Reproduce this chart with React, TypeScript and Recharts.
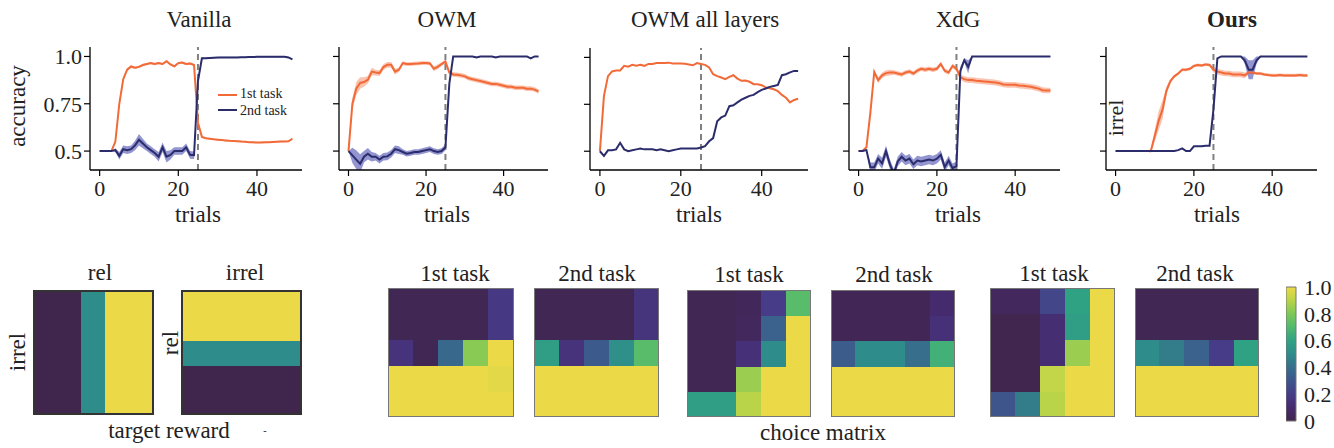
import React from "react";
import {
  ComposedChart,
  Line,
  Area,
  XAxis,
  YAxis,
  ReferenceLine,
  BarChart,
  Bar,
  Cell,
} from "recharts";

const FONT = '"Liberation Serif", "DejaVu Serif", serif';
const ORANGE = "#f26a38";
const NAVY = "#2b2c6b";
const TEXT = "#222";

// x axis: trial index 0..49
const TRIALS = Array.from({ length: 50 }, (_, i) => i);
const X_TICKS = [0, 20, 40];
const Y_TICKS = [0.5, 0.75, 1.0];
const SWITCH_TRIAL = 25;

// ---- Vanilla
const vanOr = [
  0.5, 0.5, 0.5, 0.5, 0.55, 0.75, 0.88, 0.93, 0.947, 0.94,
  0.945, 0.955, 0.96, 0.965, 0.96, 0.965, 0.96, 0.975, 0.958, 0.948,
  0.965, 0.968, 0.96, 0.963, 0.955, 0.65, 0.575, 0.568, 0.565, 0.562,
  0.56, 0.558, 0.556, 0.554, 0.553, 0.552, 0.55, 0.549, 0.547, 0.546,
  0.545, 0.545, 0.546, 0.547, 0.548, 0.549, 0.55, 0.55, 0.552, 0.565,
];
const vanOrSd = [
  0, 0, 0, 0, 0.01, 0.015, 0.01, 0.008, 0.006, 0.006,
  0.006, 0.006, 0.006, 0.006, 0.006, 0.006, 0.006, 0.006, 0.006, 0.006,
  0.006, 0.006, 0.006, 0.006, 0.006, 0.01, 0.004, 0.004, 0.004, 0.004,
  0.004, 0.004, 0.004, 0.004, 0.004, 0.004, 0.004, 0.004, 0.004, 0.004,
  0.004, 0.004, 0.004, 0.004, 0.004, 0.004, 0.004, 0.004, 0.004, 0.006,
];
const vanBl = [
  0.5, 0.5, 0.5, 0.5, 0.505, 0.475, 0.51, 0.505, 0.51, 0.53,
  0.56, 0.54, 0.52, 0.505, 0.49, 0.47, 0.52, 0.47, 0.48, 0.5,
  0.5, 0.5, 0.52, 0.48, 0.478, 0.87, 0.99, 0.99, 0.992, 0.993,
  0.994, 0.995, 0.995, 0.995, 0.995, 0.995, 0.996, 0.996, 0.997, 0.997,
  0.998, 0.998, 0.998, 0.998, 0.998, 0.998, 0.998, 0.998, 0.995, 0.985,
];
const vanBlSd = [
  0, 0, 0, 0, 0.01, 0.02, 0.02, 0.02, 0.02, 0.025,
  0.03, 0.025, 0.02, 0.02, 0.02, 0.025, 0.025, 0.03, 0.025, 0.02,
  0.02, 0.02, 0.02, 0.02, 0.02, 0.02, 0.005, 0.003, 0.003, 0.003,
  0.003, 0.003, 0.003, 0.003, 0.003, 0.003, 0.003, 0.003, 0.003, 0.003,
  0.003, 0.003, 0.003, 0.003, 0.003, 0.003, 0.003, 0.003, 0.003, 0.003,
];

// ---- OWM
const owmOr = [
  0.5, 0.75, 0.83, 0.86, 0.865, 0.877, 0.92, 0.915, 0.912, 0.944,
  0.956, 0.956, 0.92, 0.93, 0.965, 0.96, 0.96, 0.962, 0.963, 0.965,
  0.965, 0.963, 0.935, 0.945, 0.96, 0.973, 0.915, 0.905, 0.903, 0.9,
  0.895, 0.885, 0.88, 0.875, 0.87, 0.865, 0.86, 0.855, 0.855, 0.85,
  0.845, 0.84, 0.84, 0.835, 0.835, 0.835, 0.83, 0.83, 0.825, 0.815,
];
const owmOrSd = [
  0, 0.03, 0.035, 0.03, 0.025, 0.02, 0.02, 0.015, 0.015, 0.015,
  0.015, 0.015, 0.015, 0.012, 0.01, 0.01, 0.01, 0.01, 0.01, 0.01,
  0.01, 0.01, 0.012, 0.012, 0.01, 0.01, 0.012, 0.012, 0.012, 0.012,
  0.012, 0.012, 0.012, 0.012, 0.012, 0.012, 0.012, 0.012, 0.012, 0.012,
  0.012, 0.012, 0.012, 0.012, 0.012, 0.012, 0.012, 0.012, 0.012, 0.012,
];
const owmBl = [
  0.5, 0.477, 0.455, 0.433, 0.47, 0.486, 0.47, 0.47, 0.455, 0.47,
  0.472, 0.486, 0.51, 0.505, 0.495, 0.486, 0.49, 0.495, 0.495, 0.5,
  0.505, 0.51, 0.5, 0.495, 0.5, 0.52, 0.855, 1.0, 1.0, 1.0,
  1.0, 1.0, 1.0, 0.995, 1.0, 1.0, 1.0, 1.0, 0.995, 1.0,
  1.0, 1.0, 1.0, 1.0, 1.0, 1.0, 1.0, 0.99, 1.0, 1.0,
];
const owmBlSd = [
  0, 0.04, 0.05, 0.05, 0.03, 0.03, 0.025, 0.02, 0.02, 0.02,
  0.02, 0.02, 0.02, 0.02, 0.015, 0.015, 0.015, 0.015, 0.015, 0.015,
  0.015, 0.015, 0.015, 0.015, 0.015, 0.015, 0.01, 0.003, 0.003, 0.003,
  0.003, 0.003, 0.003, 0.003, 0.003, 0.003, 0.003, 0.003, 0.003, 0.003,
  0.003, 0.003, 0.003, 0.003, 0.003, 0.003, 0.003, 0.003, 0.003, 0.003,
];

// ---- OWM all layers
const owmAllOr = [
  0.5, 0.795, 0.9, 0.925, 0.93, 0.93, 0.955, 0.95, 0.96, 0.955,
  0.96, 0.955, 0.965, 0.965, 0.97, 0.97, 0.97, 0.972, 0.968, 0.968,
  0.968, 0.966, 0.962, 0.958, 0.97, 0.965, 0.96, 0.946, 0.91, 0.9,
  0.893, 0.884, 0.896, 0.905, 0.887, 0.875, 0.877, 0.87, 0.857, 0.857,
  0.852, 0.84, 0.836, 0.83, 0.82, 0.8, 0.785, 0.76, 0.773, 0.78,
];
const owmAllBl = [
  0.5, 0.475, 0.505, 0.505, 0.51, 0.545, 0.51, 0.5, 0.505, 0.51,
  0.515, 0.51, 0.51, 0.51, 0.505, 0.51, 0.505, 0.5, 0.505, 0.51,
  0.515, 0.515, 0.515, 0.515, 0.515, 0.52, 0.527, 0.553, 0.57, 0.66,
  0.68, 0.69, 0.74, 0.745, 0.76, 0.775, 0.785, 0.795, 0.8, 0.815,
  0.827, 0.834, 0.843, 0.848, 0.853, 0.905, 0.91, 0.92, 0.928, 0.928,
];

// ---- XdG
const xdgOr = [
  0.5, 0.5, 0.52, 0.7, 0.918, 0.875, 0.9, 0.912, 0.915, 0.915,
  0.91, 0.905, 0.915, 0.92, 0.91, 0.925, 0.935, 0.93, 0.935, 0.93,
  0.935, 0.96, 0.925, 0.915, 0.95, 0.935, 0.89, 0.88, 0.875, 0.875,
  0.872, 0.87, 0.868, 0.866, 0.864, 0.862, 0.858, 0.852, 0.85, 0.85,
  0.85, 0.846, 0.845, 0.842, 0.84, 0.835, 0.83, 0.822, 0.82, 0.82,
];
const xdgOrSd = [
  0, 0, 0.005, 0.01, 0.012, 0.015, 0.015, 0.015, 0.015, 0.012,
  0.012, 0.012, 0.012, 0.012, 0.012, 0.012, 0.012, 0.012, 0.012, 0.012,
  0.012, 0.012, 0.012, 0.012, 0.012, 0.012, 0.015, 0.015, 0.015, 0.015,
  0.015, 0.015, 0.015, 0.015, 0.015, 0.015, 0.015, 0.015, 0.015, 0.015,
  0.015, 0.015, 0.015, 0.015, 0.015, 0.015, 0.015, 0.015, 0.015, 0.015,
];
const xdgBl = [
  0.5, 0.5, 0.505, 0.415, 0.415, 0.46, 0.435, 0.5, 0.43, 0.38,
  0.445, 0.47, 0.45, 0.46, 0.43, 0.45, 0.445, 0.45, 0.455, 0.45,
  0.46, 0.48, 0.415, 0.45, 0.41, 0.42, 0.925, 0.98, 0.945, 1.0,
  1.0, 1.0, 1.0, 1.0, 1.0, 1.0, 1.0, 1.0, 1.0, 1.0,
  1.0, 1.0, 1.0, 1.0, 1.0, 1.0, 1.0, 1.0, 1.0, 1.0,
];
const xdgBlSd = [
  0, 0, 0.005, 0.025, 0.025, 0.025, 0.03, 0.03, 0.025, 0.025,
  0.025, 0.025, 0.025, 0.025, 0.025, 0.025, 0.025, 0.025, 0.025, 0.025,
  0.025, 0.025, 0.025, 0.025, 0.025, 0.025, 0.02, 0.01, 0.035, 0.002,
  0.002, 0.002, 0.002, 0.002, 0.002, 0.002, 0.002, 0.002, 0.002, 0.002,
  0.002, 0.002, 0.002, 0.002, 0.002, 0.002, 0.002, 0.002, 0.002, 0.002,
];

// ---- Ours
const oursOr = [
  0.5, 0.5, 0.5, 0.5, 0.5, 0.5, 0.5, 0.5, 0.5, 0.5,
  0.58, 0.66, 0.72, 0.82, 0.87, 0.895, 0.91, 0.93, 0.93, 0.935,
  0.95, 0.955, 0.952, 0.958, 0.955, 0.93, 0.92, 0.915, 0.91, 0.91,
  0.905, 0.905, 0.905, 0.9, 0.915, 0.915, 0.91, 0.91, 0.905, 0.902,
  0.9, 0.9, 0.902, 0.9, 0.9, 0.9, 0.9, 0.902, 0.9, 0.9,
];
const oursOrSd = [
  0, 0, 0, 0, 0, 0, 0, 0, 0, 0.01,
  0.03, 0.05, 0.05, 0.02, 0.01, 0.008, 0.008, 0.008, 0.008, 0.008,
  0.008, 0.008, 0.008, 0.008, 0.008, 0.015, 0.015, 0.015, 0.015, 0.015,
  0.015, 0.015, 0.015, 0.015, 0.008, 0.008, 0.008, 0.008, 0.008, 0.008,
  0.008, 0.008, 0.008, 0.008, 0.008, 0.008, 0.008, 0.008, 0.008, 0.008,
];
const oursBl = [
  0.5, 0.5, 0.5, 0.5, 0.5, 0.5, 0.5, 0.5, 0.5, 0.5,
  0.5, 0.5, 0.5, 0.5, 0.5, 0.5, 0.505, 0.514, 0.5, 0.5,
  0.525, 0.525, 0.525, 0.528, 0.528, 0.72, 0.99, 1.0, 1.0, 1.0,
  1.0, 1.0, 1.0, 0.98, 0.93, 0.93, 0.98, 1.0, 1.0, 1.0,
  1.0, 1.0, 1.0, 1.0, 1.0, 1.0, 1.0, 1.0, 1.0, 1.0,
];
const oursBlSd = [
  0, 0, 0, 0, 0, 0, 0, 0, 0, 0,
  0, 0, 0, 0, 0, 0, 0, 0, 0, 0,
  0, 0, 0, 0, 0, 0, 0, 0, 0, 0,
  0, 0, 0, 0.02, 0.05, 0.05, 0.02, 0, 0, 0,
  0, 0, 0, 0, 0, 0, 0, 0, 0, 0,
];

// ---- heatmaps (row 0 = top row), values 0..1
const MAT_COLS = ["c0", "c1", "c2", "c3", "c4"];
const targetRel = [
  [0, 0, 0.5, 1, 1],
  [0, 0, 0.5, 1, 1],
  [0, 0, 0.5, 1, 1],
  [0, 0, 0.5, 1, 1],
  [0, 0, 0.5, 1, 1],
];
const targetIrrel = [
  [1, 1, 1, 1, 1],
  [1, 1, 1, 1, 1],
  [0.5, 0.5, 0.5, 0.5, 0.5],
  [0, 0, 0, 0, 0],
  [0, 0, 0, 0, 0],
];
const vanFirst = [
  [0.02, 0.02, 0.02, 0.02, 0.18],
  [0.02, 0.02, 0.02, 0.02, 0.18],
  [0.15, 0.02, 0.38, 0.82, 1.0],
  [1, 1, 1, 1, 0.98],
  [1, 1, 1, 1, 1],
];
const vanSecond = [
  [0.02, 0.02, 0.02, 0.02, 0.16],
  [0.02, 0.02, 0.02, 0.02, 0.16],
  [0.58, 0.15, 0.32, 0.52, 0.72],
  [1, 1, 1, 1, 1],
  [1, 1, 1, 1, 1],
];
const owmAllFirst = [
  [0.02, 0.02, 0.04, 0.2, 0.72],
  [0.02, 0.02, 0.05, 0.35, 1.0],
  [0.02, 0.02, 0.14, 0.5, 1.0],
  [0.02, 0.02, 0.85, 1, 1],
  [0.58, 0.58, 0.9, 1, 1],
];
const owmAllSecond = [
  [0.03, 0.03, 0.03, 0.03, 0.1],
  [0.03, 0.03, 0.03, 0.03, 0.14],
  [0.33, 0.5, 0.5, 0.4, 0.66],
  [1, 1, 1, 1, 1],
  [1, 1, 1, 1, 1],
];
const oursFirst = [
  [0.05, 0.05, 0.24, 0.6, 1.0],
  [0.01, 0.01, 0.12, 0.58, 1.0],
  [0.01, 0.01, 0.12, 0.85, 1.0],
  [0.01, 0.01, 0.92, 1, 1],
  [0.3, 0.45, 0.9, 1, 1],
];
const oursSecond = [
  [0.02, 0.02, 0.02, 0.02, 0.02],
  [0.02, 0.02, 0.02, 0.02, 0.02],
  [0.5, 0.45, 0.35, 0.2, 0.6],
  [1, 1, 1, 1, 1],
  [1, 1, 1, 1, 1],
];
const CBAR_TICKS = [0, 0.2, 0.4, 0.6, 0.8, 1.0];

// washed-out viridis, as printed
const CMAP: [number, number[]][] = [
  [0.0, [64, 38, 76]],
  [0.1, [70, 42, 110]],
  [0.2, [70, 60, 135]],
  [0.3, [62, 85, 140]],
  [0.4, [55, 110, 140]],
  [0.5, [46, 140, 138]],
  [0.6, [48, 162, 132]],
  [0.7, [80, 185, 110]],
  [0.8, [125, 200, 88]],
  [0.9, [185, 212, 72]],
  [1.0, [236, 217, 72]],
];

const cmap = (v: number) => {
  const x = Math.max(0, Math.min(1, v));
  for (let k = 1; k < CMAP.length; k++) {
    const [b, cb] = CMAP[k];
    const [a, ca] = CMAP[k - 1];
    if (x <= b) {
      const f = (x - a) / (b - a);
      const c = ca.map((q, i) => Math.round(q + (cb[i] - q) * f));
      return `rgb(${c[0]},${c[1]},${c[2]})`;
    }
  }
  return "rgb(236,217,72)";
};

type Box = { left: number; top: number; width: number; height: number };

const fmtY = (v: number) => (v === 1 ? "1.0" : String(v));

const Panel = ({
  box,
  or,
  orSd,
  bl,
  blSd,
  showY,
}: {
  box: Box;
  or: number[];
  orSd?: number[];
  bl: number[];
  blSd?: number[];
  showY?: boolean;
}) => {
  const padL = 70;
  const padR = 12;
  const padT = 6;
  const padB = 34;
  const data = TRIALS.map((t, i) => ({
    t,
    or: or[i],
    bl: bl[i],
    orBand: orSd ? [or[i] - orSd[i], or[i] + orSd[i]] : null,
    blBand: blSd ? [bl[i] - blSd[i], bl[i] + blSd[i]] : null,
  }));
  const tick = { fontFamily: FONT, fontSize: 22, fill: TEXT };
  return (
    <div style={{ position: "absolute", left: box.left - padL, top: box.top - padT }}>
      <ComposedChart
        width={box.width + padL + padR}
        height={box.height + padT + padB}
        data={data}
        margin={{ top: padT, right: padR, left: 0, bottom: 0 }}
      >
        <XAxis
          dataKey="t"
          type="number"
          domain={[-2.45, 51.45]}
          allowDataOverflow
          ticks={X_TICKS}
          interval={0}
          height={padB}
          tick={tick}
          tickSize={6}
          tickMargin={4}
          tickLine={{ stroke: "#000", strokeWidth: 1.2 }}
          axisLine={{ stroke: "#000", strokeWidth: 1.3 }}
        />
        <YAxis
          type="number"
          domain={[0.4, 1.05]}
          allowDataOverflow
          ticks={Y_TICKS}
          interval={0}
          width={padL}
          tick={tick}
          tickSize={6}
          tickMargin={2}
          tickFormatter={showY ? fmtY : () => ""}
          tickLine={{ stroke: "#000", strokeWidth: 1.2 }}
          axisLine={{ stroke: "#000", strokeWidth: 1.3 }}
        />
        {orSd && (
          <Area
            dataKey="orBand"
            stroke="none"
            fill={ORANGE}
            fillOpacity={0.4}
            isAnimationActive={false}
          />
        )}
        {blSd && (
          <Area
            dataKey="blBand"
            stroke="none"
            fill="#4a4fb0"
            fillOpacity={0.6}
            isAnimationActive={false}
          />
        )}
        <ReferenceLine x={SWITCH_TRIAL} stroke="#808080" strokeWidth={2} strokeDasharray="6 4" />
        <Line dataKey="or" stroke={ORANGE} strokeWidth={2} dot={false} isAnimationActive={false} />
        <Line dataKey="bl" stroke={NAVY} strokeWidth={2} dot={false} isAnimationActive={false} />
      </ComposedChart>
    </div>
  );
};

const Heat = ({ box, mat, dark }: { box: Box; mat: number[][]; dark?: boolean }) => {
  const data = MAT_COLS.map((c) => ({ c, r0: 1, r1: 1, r2: 1, r3: 1, r4: 1 }));
  const order = [4, 3, 2, 1, 0];
  return (
    <div style={{ position: "absolute", left: box.left, top: box.top }}>
      <BarChart
        width={box.width}
        height={box.height}
        data={data}
        margin={{ top: 0, right: 0, left: 0, bottom: 0 }}
        barCategoryGap={0}
        barGap={0}
      >
        <XAxis dataKey="c" hide />
        <YAxis hide domain={[0, 5]} />
        {order.map((r) => (
          <Bar key={r} dataKey={`r${r}`} stackId="m" isAnimationActive={false}>
            {MAT_COLS.map((c, j) => (
              <Cell
                key={c}
                fill={cmap(mat[r][j])}
                stroke={cmap(mat[r][j])}
                strokeWidth={1}
                shapeRendering="crispEdges"
              />
            ))}
          </Bar>
        ))}
      </BarChart>
      <div
        style={{
          position: "absolute",
          left: 0,
          top: 0,
          width: box.width,
          height: box.height,
          boxSizing: "border-box",
          border: dark ? "2px solid #333" : "1.5px solid #777",
        }}
      />
    </div>
  );
};

const ColorBar = () => {
  const top = 287;
  const pad = 14;
  return (
    <div style={{ position: "absolute", left: 1286, top: top - pad }}>
      <BarChart
        width={60}
        height={134 + 2 * pad}
        data={[{ k: "cb", v: 1 }]}
        margin={{ top: pad, right: 0, left: 0, bottom: pad }}
        barCategoryGap={0}
      >
        <defs>
          <linearGradient id="cbGrad" x1="0" y1="1" x2="0" y2="0">
            {CMAP.map(([s, c]) => (
              <stop key={s} offset={`${s * 100}%`} stopColor={`rgb(${c[0]},${c[1]},${c[2]})`} />
            ))}
          </linearGradient>
        </defs>
        <XAxis dataKey="k" hide />
        <YAxis
          orientation="right"
          domain={[0, 1]}
          ticks={CBAR_TICKS}
          interval={0}
          width={50}
          axisLine={false}
          tickLine={false}
          tickMargin={2}
          tick={{ fontFamily: FONT, fontSize: 22, fill: TEXT }}
          tickFormatter={(v: number) => (v === 0 ? "0" : v.toFixed(1))}
        />
        <Bar dataKey="v" fill="url(#cbGrad)" stroke="#777" strokeWidth={1} isAnimationActive={false} />
      </BarChart>
    </div>
  );
};

const Txt = ({
  x,
  y,
  size = 23,
  rot = 0,
  bold = false,
  children,
}: {
  x: number;
  y: number;
  size?: number;
  rot?: number;
  bold?: boolean;
  children: React.ReactNode;
}) => (
  <div
    style={{
      position: "absolute",
      left: x,
      top: y,
      transform: `translate(-50%, -50%) rotate(${rot}deg)`,
      fontSize: size,
      fontWeight: bold ? 700 : 400,
      lineHeight: 1,
      whiteSpace: "nowrap",
      color: TEXT,
    }}
  >
    {children}
  </div>
);

const LegendRow = ({ y, ty, color, label }: { y: number; ty: number; color: string; label: string }) => (
  <>
    <div style={{ position: "absolute", left: 218, top: y - 1, width: 19, height: 2, background: color }} />
    <div
      style={{
        position: "absolute",
        left: 240,
        top: ty - 7,
        fontSize: 14,
        lineHeight: "14px",
        whiteSpace: "nowrap",
        color: TEXT,
      }}
    >
      {label}
    </div>
  </>
);

export default function App() {
  return (
    <div
      style={{
        position: "absolute",
        left: 0,
        top: 0,
        width: 1334,
        height: 448,
        background: "#fff",
        fontFamily: FONT,
        overflow: "hidden",
      }}
    >
      {/* top row: accuracy curves */}
      <Panel box={{ left: 90, top: 47, width: 212, height: 123 }} or={vanOr} orSd={vanOrSd} bl={vanBl} blSd={vanBlSd} showY />
      <Panel box={{ left: 339, top: 47, width: 209, height: 123 }} or={owmOr} orSd={owmOrSd} bl={owmBl} blSd={owmBlSd} />
      <Panel box={{ left: 590, top: 48, width: 218, height: 122 }} or={owmAllOr} bl={owmAllBl} />
      <Panel box={{ left: 849, top: 47, width: 211, height: 123 }} or={xdgOr} orSd={xdgOrSd} bl={xdgBl} blSd={xdgBlSd} />
      <Panel box={{ left: 1106, top: 47, width: 211, height: 123 }} or={oursOr} orSd={oursOrSd} bl={oursBl} blSd={oursBlSd} />

      <Txt x={199} y={19}>Vanilla</Txt>
      <Txt x={447} y={19}>OWM</Txt>
      <Txt x={705} y={19}>OWM all layers</Txt>
      <Txt x={958} y={19}>XdG</Txt>
      <Txt x={1232} y={19} bold>Ours</Txt>

      <Txt x={17} y={106} rot={-90}>accuracy</Txt>
      <Txt x={198} y={214}>trials</Txt>
      <Txt x={447} y={214}>trials</Txt>
      <Txt x={699} y={214}>trials</Txt>
      <Txt x={958} y={214}>trials</Txt>
      <Txt x={1217} y={214}>trials</Txt>
      <Txt x={1116} y={118} rot={-90} size={22}>irrel</Txt>

      <LegendRow y={95} ty={94} color={ORANGE} label="1st task" />
      <LegendRow y={110} ty={111} color={NAVY} label="2nd task" />

      {/* bottom row: target reward */}
      <Heat box={{ left: 33, top: 290, width: 121, height: 125 }} mat={targetRel} dark />
      <Heat box={{ left: 181, top: 290, width: 121, height: 125 }} mat={targetIrrel} dark />
      <Txt x={100} y={272}>rel</Txt>
      <Txt x={245} y={272}>irrel</Txt>
      <Txt x={17} y={352} rot={-90}>irrel</Txt>
      <Txt x={170} y={343} rot={-90}>rel</Txt>
      <Txt x={169} y={430}>target reward</Txt>
      <Txt x={265} y={431} size={10}>-</Txt>

      {/* choice matrices */}
      <Heat box={{ left: 388, top: 288, width: 126, height: 129 }} mat={vanFirst} />
      <Heat box={{ left: 534, top: 288, width: 125, height: 129 }} mat={vanSecond} />
      <Heat box={{ left: 687, top: 290, width: 124, height: 127 }} mat={owmAllFirst} />
      <Heat box={{ left: 831, top: 290, width: 124, height: 127 }} mat={owmAllSecond} />
      <Heat box={{ left: 990, top: 288, width: 125, height: 129 }} mat={oursFirst} />
      <Heat box={{ left: 1135, top: 288, width: 124, height: 129 }} mat={oursSecond} />
      <Txt x={455} y={273}>1st task</Txt>
      <Txt x={597} y={273}>2nd task</Txt>
      <Txt x={749} y={274}>1st task</Txt>
      <Txt x={894} y={274}>2nd task</Txt>
      <Txt x={1054} y={273}>1st task</Txt>
      <Txt x={1195} y={273}>2nd task</Txt>
      <Txt x={823} y={432}>choice matrix</Txt>

      <ColorBar />
    </div>
  );
}
